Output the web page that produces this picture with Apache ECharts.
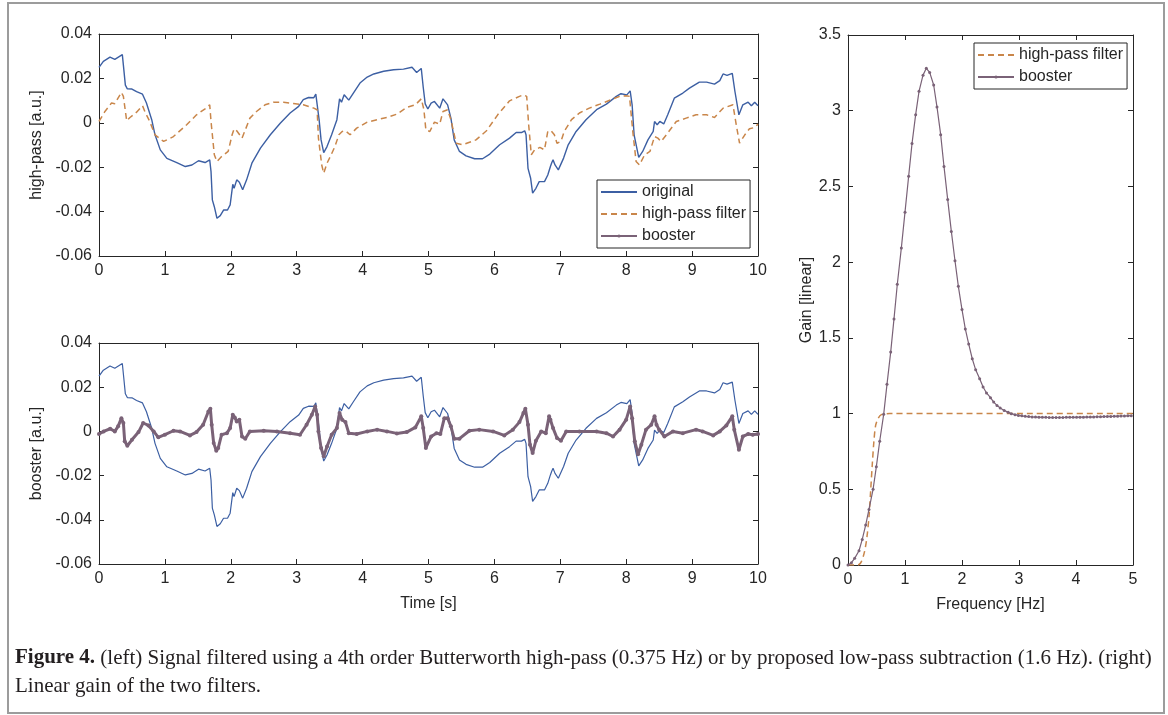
<!DOCTYPE html>
<html>
<head>
<meta charset="utf-8">
<title>Figure 4</title>
<script src="https://cdn.jsdelivr.net/npm/echarts@6/dist/echarts.min.js"></script>
<style>
  html, body { margin: 0; padding: 0; background: #fff; }
  #chart { width: 1168px; height: 715px; }
</style>
</head>
<body>
<div id="chart"></div>
<script>
// original signal (s, a.u.)
var origT = [0, 0.066, 0.167, 0.24, 0.294, 0.354, 0.37, 0.4, 0.43, 0.5, 0.57, 0.66, 0.72, 0.8, 0.85, 0.93, 1.03, 1.18, 1.31, 1.41, 1.51, 1.61, 1.68, 1.70, 1.72, 1.75, 1.79, 1.84, 1.89, 1.95, 1.99, 2.03, 2.05, 2.09, 2.13, 2.18, 2.24, 2.32, 2.45, 2.6, 2.75, 2.9, 3.03, 3.1, 3.18, 3.26, 3.29, 3.32, 3.34, 3.37, 3.41, 3.46, 3.53, 3.61, 3.65, 3.68, 3.72, 3.79, 3.86, 3.96, 4.07, 4.17, 4.32, 4.47, 4.62, 4.75, 4.82, 4.89, 4.92, 4.95, 4.99, 5.04, 5.09, 5.17, 5.22, 5.29, 5.34, 5.39, 5.47, 5.57, 5.7, 5.82, 5.93, 6.08, 6.23, 6.33, 6.41, 6.46, 6.48, 6.51, 6.55, 6.58, 6.63, 6.68, 6.76, 6.81, 6.85, 6.87, 6.89, 6.92, 6.97, 7.05, 7.12, 7.24, 7.39, 7.55, 7.7, 7.85, 7.92, 8.01, 8.06, 8.09, 8.12, 8.19, 8.25, 8.33, 8.41, 8.43, 8.47, 8.51, 8.57, 8.63, 8.73, 8.86, 8.96, 9.11, 9.22, 9.34, 9.42, 9.47, 9.53, 9.61, 9.65, 9.71, 9.77, 9.85, 9.9, 9.95, 10];
var origV = [0.025, 0.0277, 0.0296, 0.0286, 0.0296, 0.0307, 0.026, 0.017, 0.0153, 0.0152, 0.014, 0.0129, 0.0089, 0.0014, -0.0054, -0.0122, -0.016, -0.0179, -0.0197, -0.019, -0.0171, -0.0179, -0.0167, -0.022, -0.0347, -0.0378, -0.043, -0.0418, -0.0393, -0.0393, -0.037, -0.0277, -0.0295, -0.0257, -0.0268, -0.0302, -0.0257, -0.0182, -0.0114, -0.0054, -0.0002, 0.0044, 0.0074, 0.0104, 0.0114, 0.0113, 0.0129, 0.0123, 0.0014, -0.0077, -0.0134, -0.0107, -0.0054, 0.0014, 0.0108, 0.0093, 0.0126, 0.0102, 0.0134, 0.0179, 0.0206, 0.022, 0.0232, 0.0239, 0.0242, 0.025, 0.0227, 0.0245, 0.016, 0.0085, 0.0062, 0.0089, 0.0096, 0.0066, 0.0108, 0.0081, 0.0021, -0.0077, -0.0129, -0.0149, -0.0162, -0.0162, -0.0141, -0.0099, -0.0069, -0.0044, -0.0044, -0.0036, -0.0054, -0.0205, -0.025, -0.0317, -0.0295, -0.0265, -0.0265, -0.0235, -0.0197, -0.018, -0.0167, -0.019, -0.0212, -0.0159, -0.0099, -0.0039, 0.0014, 0.0059, 0.0084, 0.0119, 0.0131, 0.0126, 0.0144, 0.0081, -0.0054, -0.0156, -0.0129, -0.0077, -0.0039, 0.0006, -0.0009, 0.0006, -0.0005, 0.0036, 0.0111, 0.0134, 0.0156, 0.0183, 0.0183, 0.0174, 0.019, 0.022, 0.0214, 0.0223, 0.0141, 0.0036, 0.0081, 0.0093, 0.0077, 0.0093, 0.0077];

// high-pass filtered signal
var hpT = [0, 0.09, 0.19, 0.24, 0.34, 0.37, 0.42, 0.47, 0.57, 0.66, 0.70, 0.77, 0.85, 0.98, 1.13, 1.33, 1.48, 1.61, 1.68, 1.70, 1.75, 1.79, 1.86, 1.96, 2.02, 2.05, 2.09, 2.12, 2.17, 2.22, 2.29, 2.39, 2.52, 2.65, 2.8, 2.95, 3.1, 3.26, 3.31, 3.33, 3.38, 3.41, 3.46, 3.51, 3.58, 3.64, 3.69, 3.74, 3.81, 3.91, 4.07, 4.22, 4.37, 4.52, 4.67, 4.8, 4.89, 4.93, 4.96, 5.02, 5.09, 5.17, 5.22, 5.29, 5.34, 5.42, 5.52, 5.72, 5.88, 6.05, 6.23, 6.38, 6.44, 6.49, 6.52, 6.56, 6.61, 6.69, 6.76, 6.81, 6.86, 6.91, 6.95, 7.01, 7.06, 7.17, 7.29, 7.44, 7.6, 7.77, 7.9, 8.0, 8.05, 8.1, 8.15, 8.2, 8.28, 8.36, 8.43, 8.48, 8.53, 8.61, 8.76, 8.91, 9.06, 9.22, 9.34, 9.47, 9.62, 9.67, 9.72, 9.8, 9.87, 9.95, 10];
var hpV = [0.0006, 0.0051, 0.0089, 0.0086, 0.0137, 0.0119, 0.0009, 0.0024, 0.0048, 0.0077, 0.0048, 0.0006, -0.0054, -0.0084, -0.0062, -0.0009, 0.0036, 0.0063, 0.0081, 0.0006, -0.0144, -0.0174, -0.0152, -0.0129, -0.0054, -0.0027, -0.0036, -0.004, -0.0069, -0.0032, 0.0021, 0.0051, 0.0081, 0.0093, 0.0093, 0.0087, 0.0081, 0.0066, 0.0059, -0.0069, -0.019, -0.0227, -0.0182, -0.0152, -0.0107, -0.0054, -0.0039, -0.0036, -0.0054, -0.0024, 0.0003, 0.0014, 0.0024, 0.0039, 0.0069, 0.0081, 0.0108, 0.006, -0.0032, -0.0039, 0.0003, -0.0006, 0.0051, 0.0059, 0.0014, -0.0092, -0.0099, -0.0077, -0.0036, 0.0036, 0.0099, 0.0119, 0.0126, 0.0119, -0.0009, -0.0144, -0.0122, -0.0111, -0.0122, -0.0039, -0.0036, -0.0054, -0.0092, -0.0084, -0.0039, 0.0014, 0.0044, 0.0066, 0.0084, 0.0104, 0.0119, 0.0122, 0.0119, -0.0039, -0.0174, -0.019, -0.0144, -0.0129, -0.0062, -0.0069, -0.0084, -0.0054, 0.0006, 0.0021, 0.0036, 0.0036, 0.0024, 0.0066, 0.0081, -0.0009, -0.0092, -0.0054, -0.0027, -0.0021, -0.0006];

// booster filtered signal
var boostT = [0, 0.07, 0.17, 0.24, 0.29, 0.34, 0.37, 0.39, 0.43, 0.5, 0.6, 0.67, 0.75, 0.83, 0.9, 1.0, 1.13, 1.23, 1.38, 1.48, 1.58, 1.66, 1.69, 1.71, 1.74, 1.78, 1.81, 1.86, 1.94, 1.99, 2.03, 2.06, 2.09, 2.13, 2.17, 2.22, 2.29, 2.5, 2.7, 2.9, 3.05, 3.15, 3.23, 3.28, 3.31, 3.33, 3.37, 3.41, 3.46, 3.53, 3.61, 3.65, 3.69, 3.74, 3.79, 3.91, 4.07, 4.22, 4.37, 4.52, 4.67, 4.8, 4.89, 4.92, 4.96, 5.04, 5.12, 5.18, 5.24, 5.29, 5.34, 5.39, 5.47, 5.62, 5.77, 5.98, 6.15, 6.28, 6.38, 6.44, 6.47, 6.51, 6.54, 6.58, 6.63, 6.71, 6.78, 6.83, 6.85, 6.89, 6.95, 7.01, 7.09, 7.29, 7.55, 7.7, 7.8, 7.9, 8.0, 8.06, 8.09, 8.13, 8.18, 8.23, 8.3, 8.38, 8.43, 8.46, 8.5, 8.58, 8.71, 8.86, 9.06, 9.16, 9.32, 9.42, 9.52, 9.61, 9.64, 9.71, 9.77, 9.85, 9.92, 10];
var boostV = [-0.0012, 0, 0.0012, 0, 0.0023, 0.006, 0.0038, -0.0045, -0.0065, -0.0038, -0.0003, 0.0038, 0.0027, 0, -0.0027, -0.0015, 0.0003, 0, -0.0018, -0.0003, 0.003, 0.009, 0.0103, 0.003, -0.0053, -0.0088, -0.0075, -0.0015, -0.0008, 0.0015, 0.0075, 0.0063, 0.0045, 0.0053, -0.0023, -0.0033, 0, 0.0003, 0, -0.0008, -0.0015, 0.003, 0.0075, 0.0113, 0.0075, 0, -0.0075, -0.0113, -0.0068, -0.0015, 0.0015, 0.0083, 0.0053, 0.0042, -0.0008, -0.0012, 0, 0.0008, 0, -0.0009, -0.0003, 0.0018, 0.0068, 0.0015, -0.0075, -0.0023, -0.0008, -0.0012, 0.006, 0.006, 0.0023, -0.0033, -0.0033, 0.0003, 0.0008, 0, -0.0018, 0.0008, 0.0042, 0.0083, 0.0103, 0.003, -0.006, -0.0098, -0.0042, 0, -0.0008, 0.0068, 0.0053, 0.0015, -0.003, -0.0042, 0, 0, 0, -0.0008, -0.0023, 0.0008, 0.0053, 0.0113, 0.006, -0.0045, -0.0103, -0.006, 0.0008, 0.003, 0.0068, 0.003, 0.0008, -0.0023, 0, -0.0008, 0.0008, 0, -0.0018, 0, 0.0027, 0.0068, 0.0008, -0.0083, -0.0023, -0.0012, -0.0015, -0.0012];

// gain curves (Hz, linear)
var hpFreq = [0, 0.175, 0.234, 0.29, 0.333, 0.368, 0.398, 0.427, 0.456, 0.485, 0.526, 0.585, 0.73, 5];
var hpGain = [0, 0, 0.022, 0.088, 0.187, 0.318, 0.494, 0.67, 0.824, 0.922, 0.966, 0.993, 1.0, 1.0];
var boostFreq = [0, 0.06, 0.117, 0.193, 0.25, 0.31, 0.368, 0.44, 0.497, 0.556, 0.626, 0.684, 0.749, 0.807, 0.865, 0.936, 1.0, 1.064, 1.123, 1.187, 1.246, 1.316, 1.374, 1.433, 1.503, 1.561, 1.626, 1.684, 1.749, 1.813, 1.877, 1.936, 2.0, 2.058, 2.117, 2.18, 2.24, 2.31, 2.37, 2.43, 2.5, 2.556, 2.614, 2.67, 2.74, 2.81, 2.865, 2.93, 2.99, 3.05, 3.11, 3.17, 3.23, 3.29, 3.35, 3.41, 3.47, 3.53, 3.59, 3.65, 3.71, 3.77, 3.83, 3.89, 3.95, 4.01, 4.07, 4.13, 4.19, 4.25, 4.31, 4.37, 4.43, 4.49, 4.55, 4.61, 4.67, 4.73, 4.79, 4.85, 4.91, 4.97];
var boostGain = [0, 0.015, 0.044, 0.094, 0.169, 0.264, 0.367, 0.5, 0.648, 0.817, 0.995, 1.193, 1.406, 1.625, 1.854, 2.094, 2.33, 2.567, 2.783, 2.974, 3.128, 3.235, 3.28, 3.253, 3.17, 3.025, 2.842, 2.632, 2.413, 2.203, 2.009, 1.84, 1.687, 1.559, 1.46, 1.362, 1.289, 1.23, 1.175, 1.136, 1.105, 1.076, 1.054, 1.037, 1.021, 1.008, 0.9995, 0.993, 0.988, 0.985, 0.982, 0.98, 0.978, 0.977, 0.976, 0.975, 0.975, 0.974, 0.974, 0.974, 0.974, 0.974, 0.975, 0.975, 0.975, 0.975, 0.976, 0.976, 0.977, 0.977, 0.978, 0.979, 0.979, 0.98, 0.981, 0.981, 0.982, 0.983, 0.984, 0.984, 0.985, 0.986];

var font = 'Liberation Sans';
var axisCol = '#262626';
var blue = '#3c5fa3', orange = '#c9864a', purple = '#7a6277';

function pairs(xs, ys) {
  var out = [];
  for (var i = 0; i < xs.length; i++) out.push([xs[i], ys[i]]);
  return out;
}

function mkAxis(gridIndex, pos, min, max, step, showLabel, name, gap) {
  return {
    type: 'value', gridIndex: gridIndex, position: pos,
    min: min, max: max, interval: step,
    name: name || '', nameLocation: 'middle', nameGap: gap || 30,
    nameTextStyle: { color: axisCol, fontSize: 16, fontFamily: font },
    axisLine: { show: true, onZero: false, lineStyle: { color: axisCol, width: 1 } },
    axisTick: { show: true, inside: true, length: 5, lineStyle: { color: axisCol } },
    axisLabel: { show: showLabel, color: axisCol, fontSize: 16, fontFamily: font, margin: 7 },
    splitLine: { show: false }
  };
}

var myChart = echarts.init(document.getElementById('chart'));

var option = {
  animation: false,
  backgroundColor: '#fff',
  graphic: [{
    type: 'rect', silent: true, z: -1,
    shape: { x: 8, y: 3, width: 1156, height: 710 },
    style: { fill: 'none', stroke: '#9c9c9c', lineWidth: 2 }
  }],
  title: [{
    left: 15, top: 644, padding: 0,
    text: '{b|Figure 4.} (left) Signal filtered using a 4th order Butterworth high-pass (0.375 Hz) or by proposed low-pass subtraction (1.6 Hz). (right)\nLinear gain of the two filters.',
    textStyle: {
      fontFamily: 'Liberation Serif', fontSize: 21, fontWeight: 'normal', color: '#231f20', lineHeight: 28,
      rich: { b: { fontFamily: 'Liberation Serif', fontSize: 21, fontWeight: 'bold', color: '#231f20', lineHeight: 28 } }
    }
  }],
  grid: [
    { left: 99, top: 34, width: 659, height: 222 },
    { left: 99, top: 343, width: 659, height: 221 },
    { left: 848, top: 35, width: 285, height: 530 }
  ],
  xAxis: [
    mkAxis(0, 'bottom', 0, 10, 1, true),
    mkAxis(0, 'top', 0, 10, 1, false),
    mkAxis(1, 'bottom', 0, 10, 1, true, 'Time [s]', 32),
    mkAxis(1, 'top', 0, 10, 1, false),
    mkAxis(2, 'bottom', 0, 5, 1, true, 'Frequency [Hz]', 32),
    mkAxis(2, 'top', 0, 5, 1, false)
  ],
  yAxis: [
    mkAxis(0, 'left', -0.06, 0.04, 0.02, true, 'high-pass [a.u.]', 40),
    mkAxis(0, 'right', -0.06, 0.04, 0.02, false),
    mkAxis(1, 'left', -0.06, 0.04, 0.02, true, 'booster [a.u.]', 40),
    mkAxis(1, 'right', -0.06, 0.04, 0.02, false),
    mkAxis(2, 'left', 0, 3.5, 0.5, true, 'Gain [linear]', 32),
    mkAxis(2, 'right', 0, 3.5, 0.5, false)
  ],
  legend: [{
    data: [
      { name: 'original', itemStyle: { opacity: 0 } },
      { name: 'high-pass filter', itemStyle: { opacity: 0 } },
      'booster'
    ],
    orient: 'vertical', left: 597, top: 180,
    itemWidth: 36, itemHeight: 4, itemGap: 6,
    padding: [4, 4, 4, 3],
    borderColor: axisCol, borderWidth: 1, backgroundColor: '#fff',
    textStyle: { color: axisCol, fontSize: 16, fontFamily: font },
    selectedMode: false
  }, {
    data: [
      { name: 'high-pass filter', itemStyle: { opacity: 0 } },
      'booster'
    ],
    orient: 'vertical', left: 974, top: 43,
    itemWidth: 36, itemHeight: 4, itemGap: 6,
    padding: [4, 4, 4, 3],
    borderColor: axisCol, borderWidth: 1, backgroundColor: '#fff',
    textStyle: { color: axisCol, fontSize: 16, fontFamily: font },
    selectedMode: false
  }],
  series: [{
    name: 'original', type: 'line', xAxisIndex: 0, yAxisIndex: 0,
    data: pairs(origT, origV), showSymbol: false, symbol: 'circle',
    lineStyle: { color: blue, width: 1.4 }, itemStyle: { color: blue }
  }, {
    name: 'high-pass filter', type: 'line', xAxisIndex: 0, yAxisIndex: 0,
    data: pairs(hpT, hpV), showSymbol: false, symbol: 'circle',
    lineStyle: { color: orange, width: 1.5, type: [6, 4] }, itemStyle: { color: orange }
  }, {
    name: 'high-pass filter', type: 'line', xAxisIndex: 4, yAxisIndex: 4,
    data: pairs(hpFreq, hpGain), showSymbol: false, symbol: 'circle', smooth: 0.3,
    lineStyle: { color: orange, width: 1.5, type: [6, 4] }, itemStyle: { color: orange }
  }, {
    name: 'booster', type: 'line', xAxisIndex: 4, yAxisIndex: 4,
    data: pairs(boostFreq, boostGain), showSymbol: true, symbol: 'circle', symbolSize: 3,
    lineStyle: { color: purple, width: 1.2 }, itemStyle: { color: purple }
  }, {
    name: 'original', type: 'line', xAxisIndex: 2, yAxisIndex: 2,
    data: pairs(origT, origV), showSymbol: false, symbol: 'circle',
    lineStyle: { color: blue, width: 1.2 }, itemStyle: { color: blue }
  }, {
    name: 'booster', type: 'line', xAxisIndex: 2, yAxisIndex: 2,
    data: pairs(boostT, boostV), showSymbol: true, symbol: 'circle', symbolSize: 4,
    lineStyle: { color: purple, width: 3 }, itemStyle: { color: purple }
  }]
};

myChart.setOption(option);
</script>
</body>
</html>
